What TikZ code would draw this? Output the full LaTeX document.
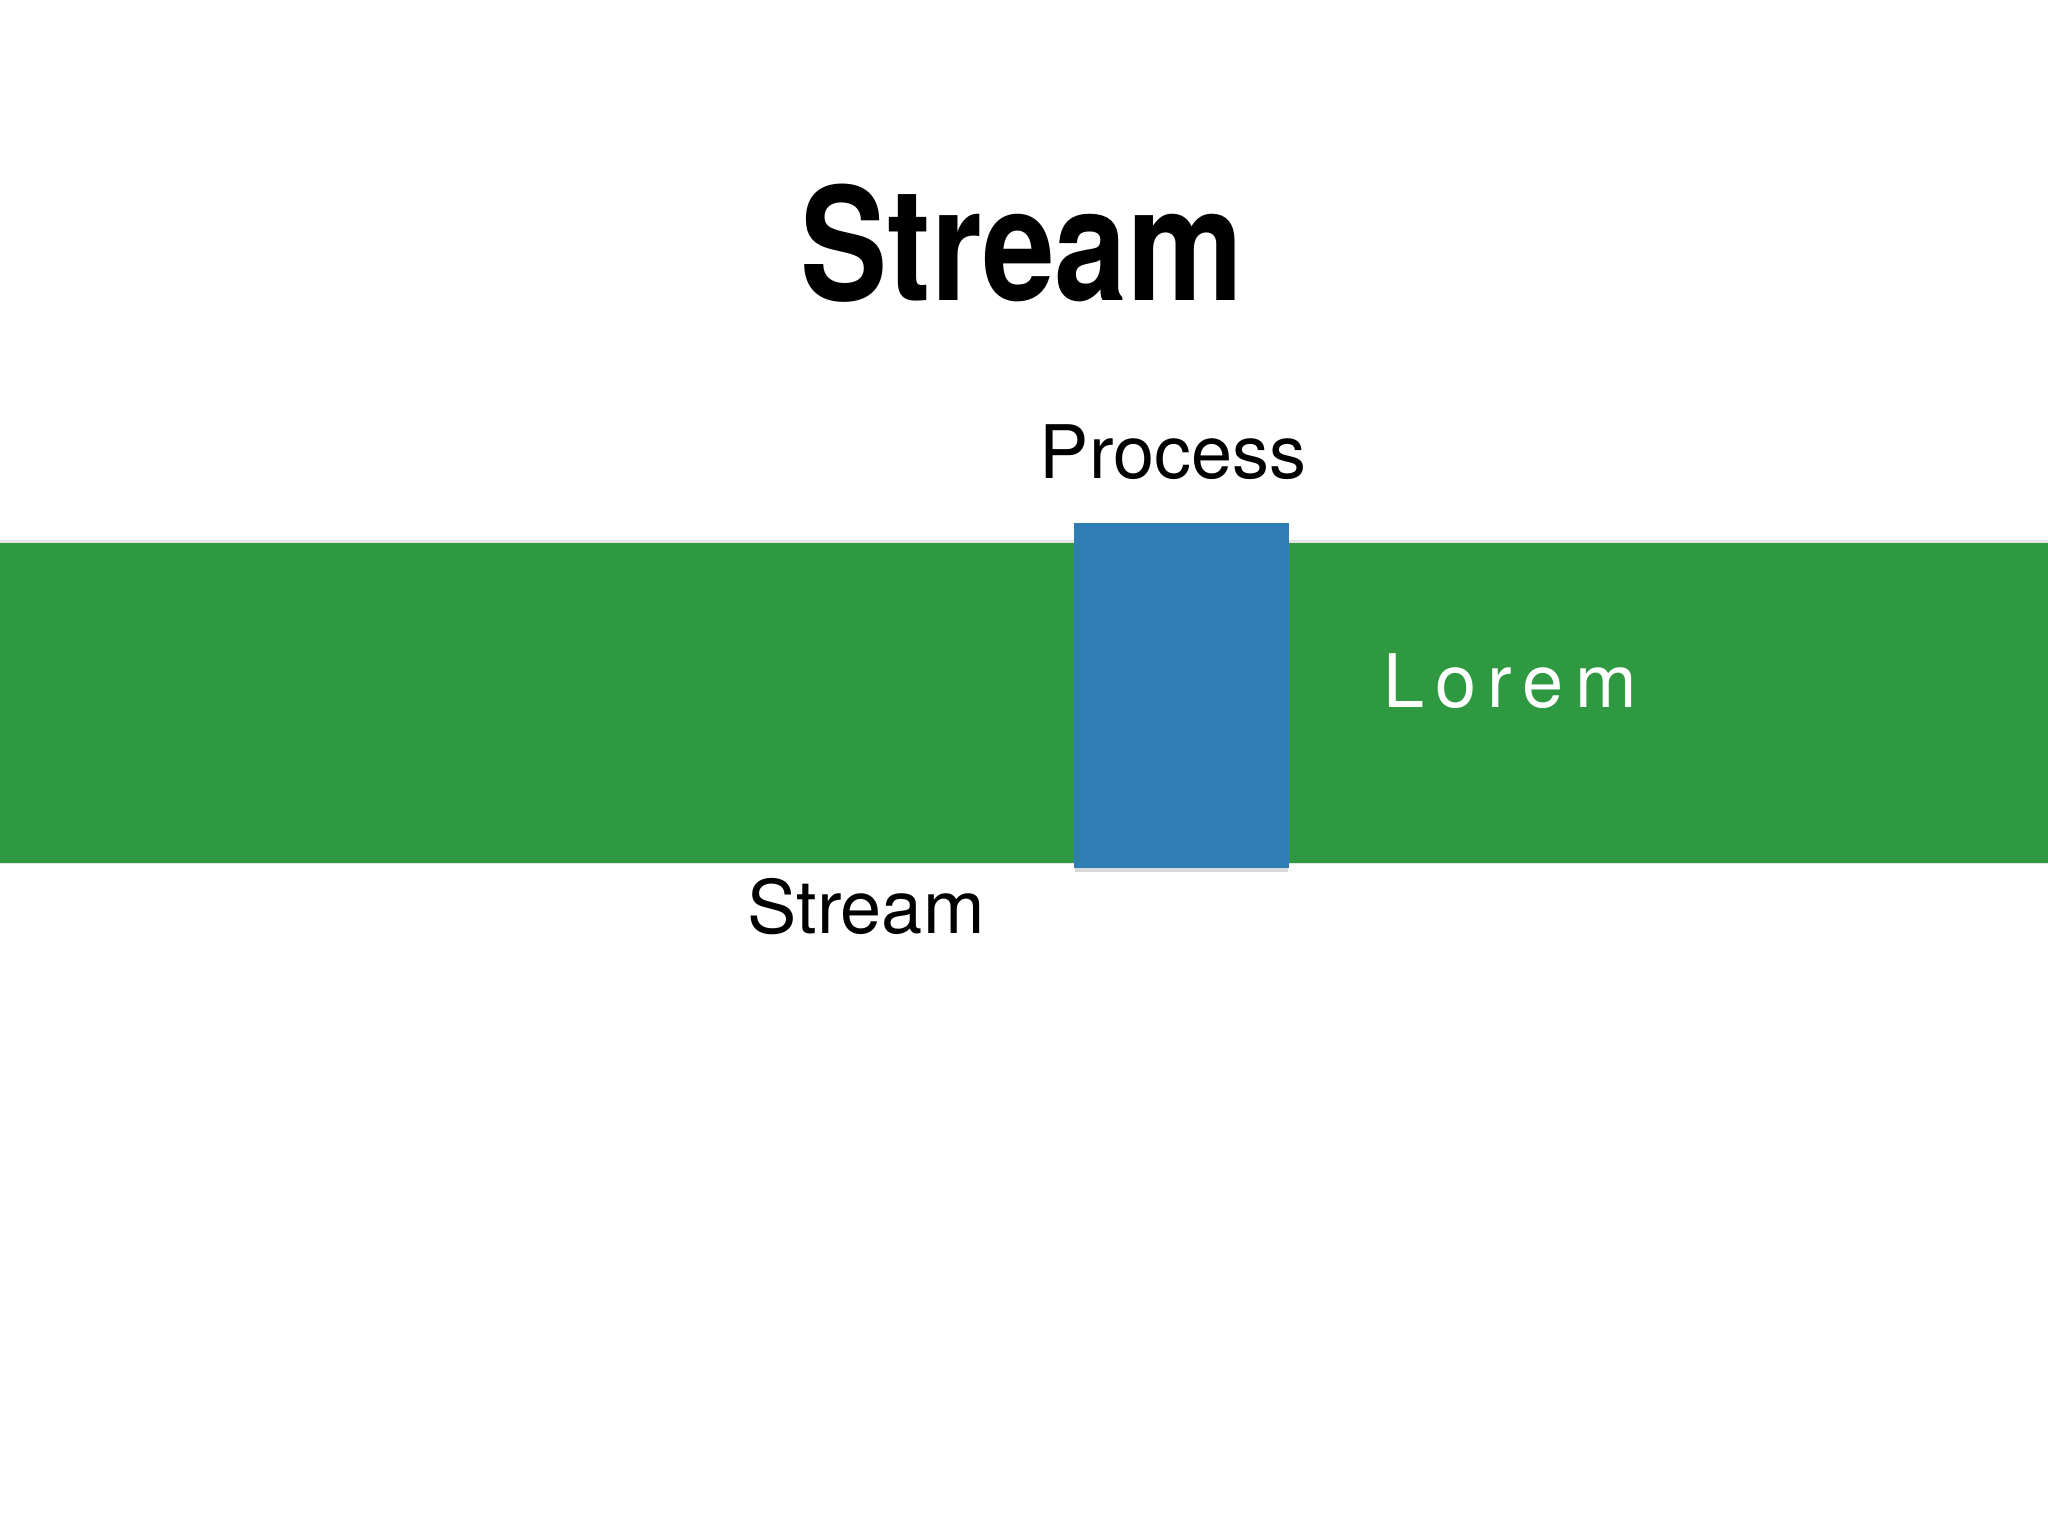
\documentclass[tikz,border=0pt]{standalone}
\usepackage{fontspec}
\setmainfont{TeX Gyre Heros}
\newfontfamily\titlefont{TeX Gyre Heros}[FakeStretch=0.83]
\definecolor{streamgreen}{RGB}{46,153,64}
\definecolor{processblue}{RGB}{46,125,180}

\begin{document}
\begin{tikzpicture}[x=0.01cm, y=-0.01cm,
    plain/.style={inner sep=0pt, anchor=base, font=\fontsize{21}{25}\selectfont}]
    \useasboundingbox[fill=white] (0, 0) rectangle (2048, 1536);

    \node (title) [inner sep=0pt, anchor=base, font=\titlefont\bfseries\fontsize{44.7}{50}\selectfont] at (1022, 300) {Stream};

    \fill[black!10] (0, 540) rectangle (2048, 864);
    \fill[streamgreen] (0, 543) rectangle (2048, 863);
    \fill[black!15] (1075, 526) rectangle (1288, 872);
    \fill[processblue] (1074, 523) rectangle (1289, 868);

    \node (process) [plain] at (1173, 478) {Process};
    \node (stream) [plain] at (866, 933) {Stream};
    \node (lorem) [plain, anchor=base west, text=white] at (1383, 707) {\addfontfeatures{LetterSpace=15}Lorem};
\end{tikzpicture}
\end{document}
